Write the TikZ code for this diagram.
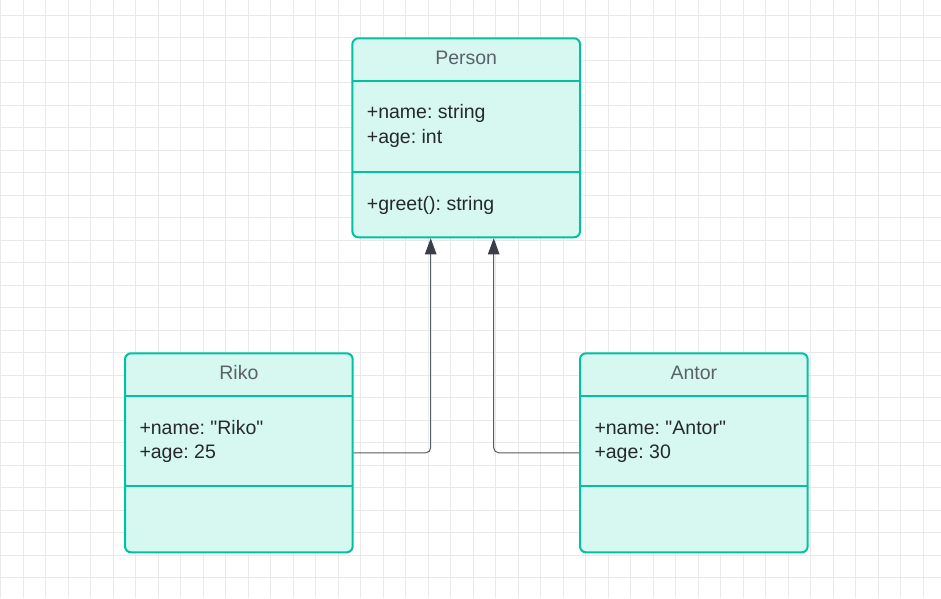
\documentclass[tikz,border=0pt]{standalone}
\usepackage{fontspec}
\setmainfont{Liberation Sans}[Ligatures=TeXOff]
\usetikzlibrary{arrows.meta,calc}
\frenchspacing
\definecolor{gridc}{HTML}{E9E9E9}
\definecolor{teal}{HTML}{00C2A3}
\definecolor{mint}{HTML}{D6F8F1}
\definecolor{headc}{HTML}{5A6168}
\definecolor{bodyc}{HTML}{25292D}
\definecolor{linec}{HTML}{555B63}
\definecolor{tipc}{HTML}{3A3F47}
\tikzset{
  umlbox/.style={draw=teal, fill=mint, line width=2pt, rounded corners=6pt,
    minimum width=227.7pt, minimum height=199pt, inner sep=0pt},
  divider/.style={draw=teal, line width=2pt},
  headtext/.style={text=headc, anchor=base, inner sep=0pt, font=\fontsize{19.5}{24.5}\selectfont},
  bodytext/.style={text=bodyc, anchor=base west, inner sep=0pt, font=\fontsize{19.5}{24.5}\selectfont},
  conn/.style={draw=linec, line width=1pt, rounded corners=5pt,
    -{Triangle[length=16pt,width=11.5pt,fill=tipc,color=tipc]}},
}
\begin{document}
\begin{tikzpicture}[x=1pt,y=-1pt]
\useasboundingbox (0,0) rectangle (941,598);
\fill[white] (0,0) rectangle (941,598);
% grid
\foreach \k in {0,...,41} {\draw[gridc, line width=1pt] ({0.7+22.5*\k},0) -- ({0.7+22.5*\k},598);}
\foreach \k in {0,...,25} {\draw[gridc, line width=1pt] (0,{15+22.5*\k}) -- (941,{15+22.5*\k});}

% Person
\node[umlbox] (person) at (466.2,137.8) {};
\draw[divider] (352.3,81) -- (580,81);
\draw[divider] (352.3,172) -- (580,172);
\node[headtext] (personT) at (466.2,64.3) {Person};
\node[bodytext] (personA) at (366.7,118.7) {+name: string};
\node[bodytext] (personB) at (366.7,143.3) {+age: int};
\node[bodytext] (personC) at (366.7,210) {+greet(): string};

% Riko
\node[umlbox] (riko) at (238.85,452.8) {};
\draw[divider] (125,396) -- (352.7,396);
\draw[divider] (125,486.3) -- (352.7,486.3);
\node[headtext] (rikoT) at (238.85,379.3) {Riko};
\node[bodytext] (rikoA) at (139.3,434) {+name: "Riko"};
\node[bodytext] (rikoB) at (139.3,458.3) {+age: 25};

% Antor
\node[umlbox] (antor) at (693.85,452.8) {};
\draw[divider] (580,396) -- (807.7,396);
\draw[divider] (580,486.3) -- (807.7,486.3);
\node[headtext] (antorT) at (693.85,379.3) {Antor};
\node[bodytext] (antorA) at (594.3,434) {+name: "Antor"};
\node[bodytext] (antorB) at (594.3,458.3) {+age: 30};

% connectors
\draw[conn] (riko.east) -| ($(person.south)+(-35.5,0)$);
\draw[conn] (antor.west) -| ($(person.south)+(27.5,0)$);
\end{tikzpicture}
\end{document}
